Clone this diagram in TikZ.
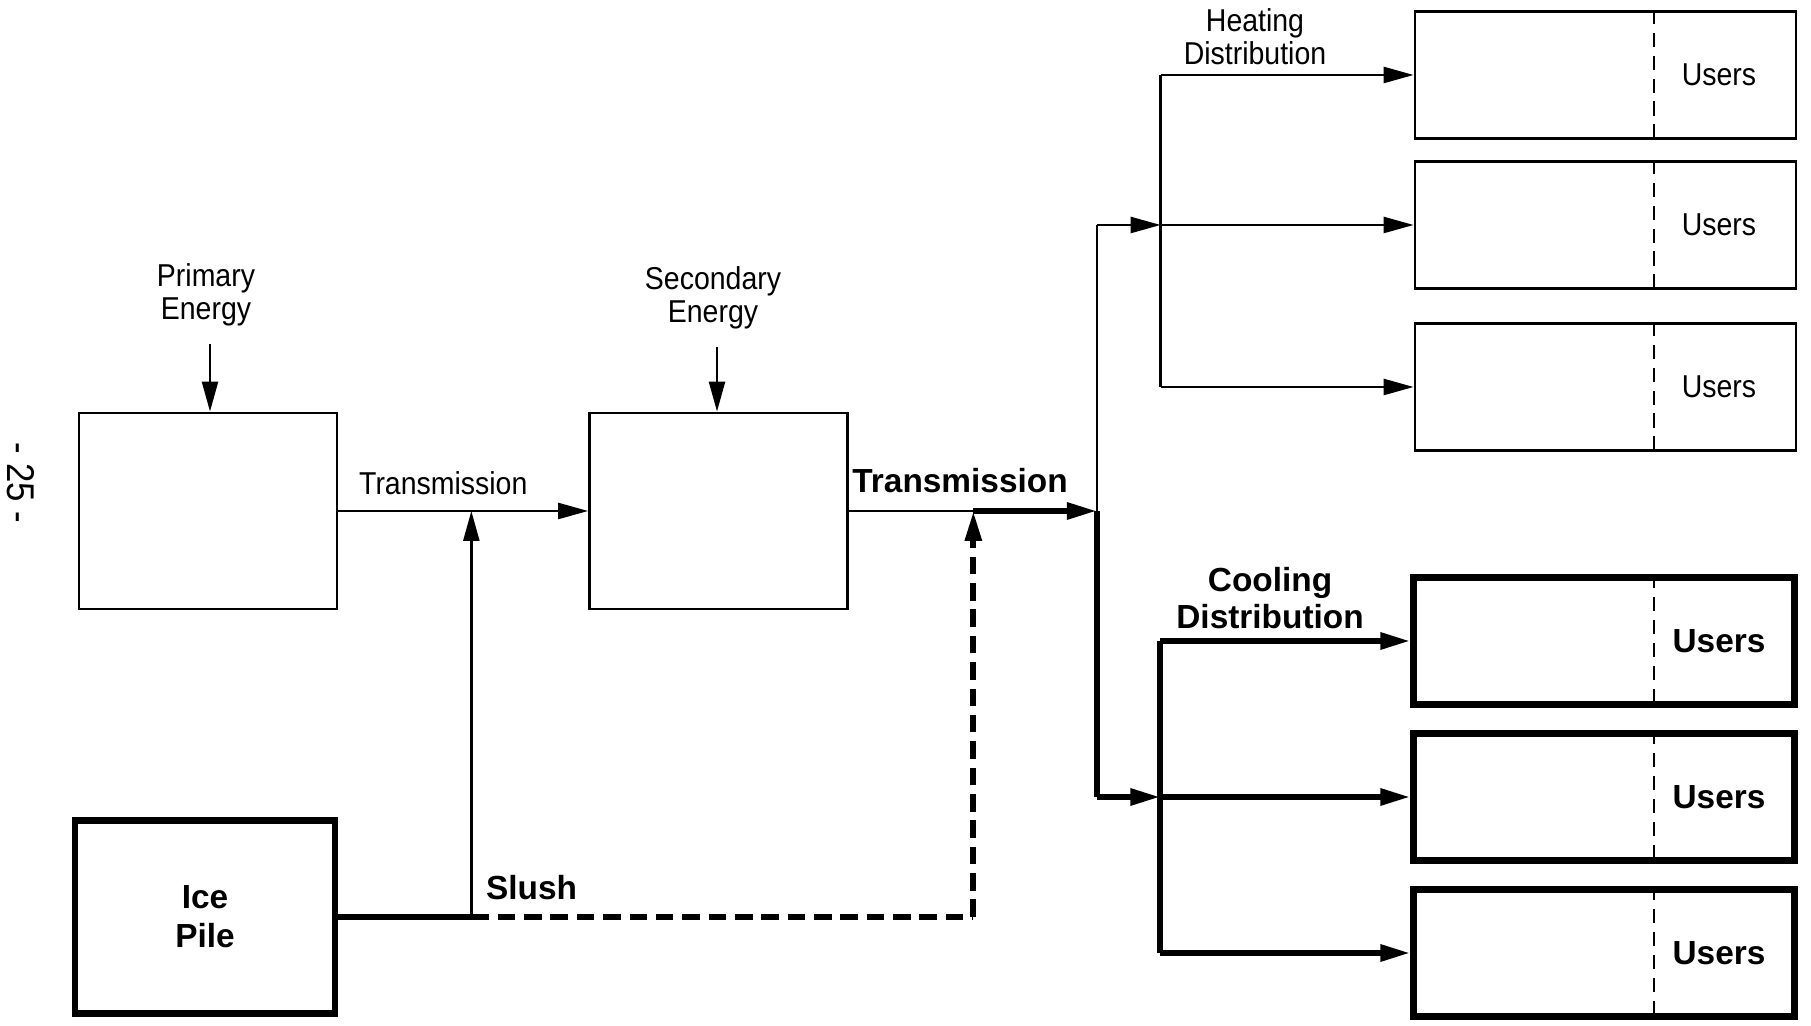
\documentclass[tikz,border=0pt]{standalone}
\usepackage{fontspec}
\setmainfont[FakeStretch=0.9]{Liberation Sans}
\newfontfamily\heavyfont{Liberation Sans}
\usetikzlibrary{arrows.meta,positioning}

\begin{document}
\begin{tikzpicture}[
        font=\fontsize{9}{9.5}\selectfont,
        >={Triangle[length=3mm,width=1.6mm]},
        thinline/.style={line width=0.7pt},
        thickline/.style={line width=1.7pt},
        slushline/.style={thickline, dash pattern=on 5pt off 2.5pt},
        plantbox/.style={draw, line width=0.8pt, minimum width=2.58cm, minimum height=1.96cm, inner sep=0pt},
        icebox/.style={draw, line width=1.9pt, minimum width=2.6cm, minimum height=1.93cm, align=center, font=\heavyfont\bfseries\fontsize{9.5}{11}\selectfont},
        userbox/.style={draw, line width=0.8pt, minimum width=3.81cm, minimum height=1.27cm, inner sep=0pt},
        coolbox/.style={userbox, line width=1.8pt},
        divider/.style={line width=0.7pt, dash pattern=on 4pt off 2.5pt},
        thinlabel/.style={align=center},
        boldlabel/.style={align=center, font=\heavyfont\bfseries\fontsize{9.5}{10.5}\selectfont}
    ]
    \useasboundingbox (0,0) rectangle (18.11,10.25);

    % page number
    \node[rotate=-90, font=\fontsize{11}{12}\selectfont] (pageno) at (0.21,5.42) {- 25 -};

    % plants
    \node[plantbox] (primary) at (2.08,5.14) {};
    \node[plantbox] (secondary) at (7.185,5.14) {};
    \node[icebox] (ice) at (2.05,1.08) {Ice\\Pile};
    \node[thinlabel] (primlbl) at (2.06,7.30) {Primary\\Energy};
    \node[thinlabel] (seclbl) at (7.13,7.27) {Secondary\\Energy};
    \draw[thinline,->] ([xshift=0.4mm,yshift=-0.5mm]primlbl.south) -- ([xshift=0.4mm]primlbl.south |- primary.north);
    \draw[thinline,->] ([xshift=0.4mm,yshift=-0.5mm]seclbl.south) -- ([xshift=0.4mm]seclbl.south |- secondary.north);

    % users
    \foreach \y [count=\i] in {9.50,8.00,6.38} {
        \node[userbox] (heat\i) at (16.055,\y) {};
        \draw[divider] ([xshift=4.85mm]heat\i.north) -- ([xshift=4.85mm]heat\i.south);
        \node (heatusr\i) at ([xshift=11.35mm]heat\i.center) {Users};
    }
    \foreach \y [count=\i] in {3.84,2.28,0.72} {
        \node[coolbox] (cool\i) at (16.04,\y) {};
        \draw[divider] ([xshift=5mm]cool\i.north) -- ([xshift=5mm]cool\i.south);
        \node[boldlabel] (coolusr\i) at ([xshift=11.5mm]cool\i.center) {Users};
    }

    % junction points
    \coordinate[right=13.3mm of ice.east] (tee);
    \coordinate[right=50.2mm of tee] (slushend);
    \coordinate[right=24.8mm of secondary.east] (split);
    \coordinate[left=25.3mm of heat2.west] (hbus);
    \coordinate[left=25mm of cool2.west] (cbus);

    % transmission
    \draw[thinline,->] (primary.east) -- (secondary.west)
        node[pos=0.42, above=1pt] (trans1) {Transmission};
    \draw[thickline] (ice.east) -- (tee);
    \draw[thinline,->] (tee) -- (tee |- primary.east);
    \draw[slushline] (tee) -- (slushend)
        node[pos=0.12, above=0.02cm, boldlabel] (slush) {Slush};
    \draw[slushline,->] (slushend) -- (slushend |- secondary.east);
    \draw[thinline] (secondary.east) -- (slushend |- secondary.east);
    \draw[thickline,->] (slushend |- secondary.east) -- (split);
    \node[boldlabel, anchor=south] (trans2) at (9.60,5.20) {Transmission};

    % heating distribution
    \draw[thinline] (split) -- (split |- hbus);
    \draw[thinline,->] (split |- hbus) -- (hbus);
    \draw[thinline] (hbus |- heat1.west) -- (hbus |- heat3.west);
    \foreach \i in {1,2,3} {
        \draw[thinline,->] (hbus |- heat\i.west) -- (heat\i.west);
    }
    \node[thinlabel] (heatlbl) at (12.55,9.88) {Heating\\Distribution};

    % cooling distribution
    \draw[thickline] (split) -- (split |- cbus);
    \draw[thickline,->] (split |- cbus) -- (cbus);
    \draw[thickline] (cbus |- cool1.west) -- (cbus |- cool3.west);
    \foreach \i in {1,2,3} {
        \draw[thickline,->] (cbus |- cool\i.west) -- (cool\i.west);
    }
    \node[boldlabel] (coollbl) at (12.70,4.27) {Cooling\\Distribution};
\end{tikzpicture}
\end{document}
